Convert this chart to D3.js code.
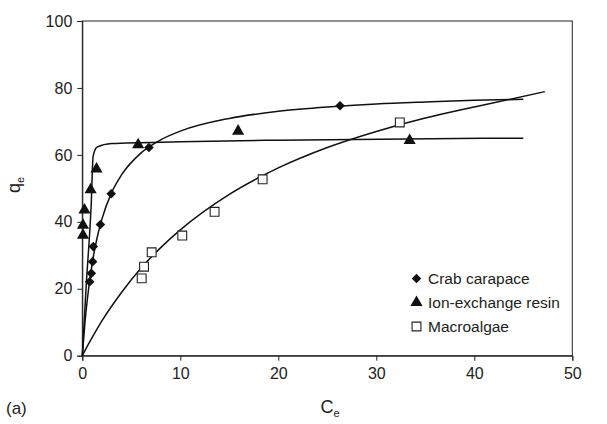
<!DOCTYPE html>
<html>
<head>
<meta charset="utf-8">
<script src="https://cdn.jsdelivr.net/npm/d3@7"></script>
<style>
  html, body { margin: 0; padding: 0; background: #fff; }
  svg { display: block; font-family: "Liberation Sans", Arial, sans-serif; }
</style>
</head>
<body>
<svg id="chart" width="607" height="424"></svg>
<script>
// Measured equilibrium data: [Ce, qe]
const crabCarapace = [[0.75, 22.1], [0.92, 24.6], [1.05, 28.1], [1.12, 32.6], [1.85, 39.2], [2.95, 48.4], [6.8, 62.2], [26.3, 74.7]];
const ionExchangeResin = [[0.07, 36.0], [0.07, 39.0], [0.22, 43.5], [0.85, 49.6], [1.45, 55.8], [5.7, 63.0], [15.9, 67.1], [33.4, 64.3]];
const macroalgae = [[6.06, 23.1], [6.3, 26.6], [7.08, 30.9], [10.2, 35.9], [13.5, 43.0], [18.4, 52.7], [32.4, 69.7]];

// Isotherm model curves, traced as vertices [Ce, qe]
const crabFit = [[0, 0], [0.25, 9.2], [0.5, 16.5], [1, 27.4], [1.5, 35.1], [2, 40.8], [3, 48.8], [4, 54.0], [6, 60.6], [8, 64.5], [10, 67.1], [15, 70.9], [20, 73.0], [25, 74.3], [30, 75.2], [35, 75.8], [40, 76.3], [45, 76.6]];
const resinFit = [[0, 0], [0.4, 21], [0.92, 46], [1.1, 59.5], [1.5, 62.3], [3, 63.4], [10, 63.9], [20, 64.4], [45, 65.0]];
const algaeFit = [[0, 0], [0.5, 2.8], [1, 5.4], [2, 10.4], [4, 18.9], [6, 26.2], [8, 32.3], [10, 37.6], [15, 48.2], [20, 56.1], [25, 62.2], [30, 67.0], [35, 71.0], [40, 74.3], [47.2, 78.9]];

const xTicks = [0, 10, 20, 30, 40, 50];
const yTicks = [0, 20, 40, 60, 80, 100];
const legendItems = ["Crab carapace", "Ion-exchange resin", "Macroalgae"];

const svg = d3.select("#chart");
const plotLeft = 82.3, plotRight = 572.3, plotTop = 21, plotBottom = 355.7;

const x = d3.scaleLinear().domain([0, 50]).range([plotLeft, plotRight]);
const y = d3.scaleLinear().domain([0, 100]).range([plotBottom, plotTop]);

// Frame
svg.append("rect")
  .attr("x", plotLeft).attr("y", plotTop)
  .attr("width", plotRight - plotLeft).attr("height", plotBottom - plotTop)
  .attr("fill", "none").attr("stroke", "#222").attr("stroke-width", 1);

// Axes
const xAxis = svg.append("g")
  .attr("transform", `translate(0,${plotBottom})`)
  .call(d3.axisBottom(x).tickValues(xTicks).tickSize(5).tickPadding(3).tickFormat(d3.format("d")));
const yAxis = svg.append("g")
  .attr("transform", `translate(${plotLeft},0)`)
  .call(d3.axisLeft(y).tickValues(yTicks).tickSize(5).tickPadding(5).tickFormat(d3.format("d")));
[xAxis, yAxis].forEach(g => {
  g.select(".domain").attr("stroke", "#222");
  g.selectAll(".tick line").attr("stroke", "#222");
  g.selectAll(".tick text").attr("fill", "#222").style("font-size", "16px")
    .style("font-family", "'Liberation Sans', Arial, sans-serif");
});
xAxis.selectAll(".tick text").attr("dy", "0.95em");

// Axis titles
const xt = svg.append("text").attr("x", 330).attr("y", 413).attr("text-anchor", "middle")
  .attr("fill", "#222").style("font-size", "18px");
xt.append("tspan").text("C");
xt.append("tspan").attr("dy", 4).style("font-size", "11px").text("e");

const yt = svg.append("text").attr("transform", "translate(20,185) rotate(-90)")
  .attr("text-anchor", "middle").attr("fill", "#222").style("font-size", "18px");
yt.append("tspan").text("q");
yt.append("tspan").attr("dy", 4).style("font-size", "11px").text("e");

svg.append("text").attr("x", 6).attr("y", 414).attr("fill", "#222")
  .style("font-size", "17px").text("(a)");

// Model curves
const line = d3.line().x(d => x(d[0])).y(d => y(d[1])).curve(d3.curveMonotoneX);
[crabFit, resinFit, algaeFit].forEach(s => {
  svg.append("path").datum(s).attr("d", line)
    .attr("fill", "none").attr("stroke", "#111").attr("stroke-width", 1.5);
});

// Marker shapes
const diamondPath = d3.symbol().type(d3.symbolSquare).size(46)();
const trianglePath = d3.symbol().type(d3.symbolTriangle).size(64)();
const squarePath = d3.symbol().type(d3.symbolSquare).size(78)();

function drawDiamond(g, cx, cy) {
  g.append("path").attr("d", diamondPath)
    .attr("transform", `translate(${cx},${cy}) rotate(45)`).attr("fill", "#111");
}
function drawTriangle(g, cx, cy) {
  g.append("path").attr("d", trianglePath)
    .attr("transform", `translate(${cx},${cy})`).attr("fill", "#111");
}
function drawSquare(g, cx, cy) {
  g.append("path").attr("d", squarePath)
    .attr("transform", `translate(${cx},${cy})`)
    .attr("fill", "#fff").attr("stroke", "#222").attr("stroke-width", 1.1);
}

const pts = svg.append("g");
macroalgae.forEach(d => drawSquare(pts, x(d[0]), y(d[1])));
crabCarapace.forEach(d => drawDiamond(pts, x(d[0]), y(d[1])));
ionExchangeResin.forEach(d => drawTriangle(pts, x(d[0]), y(d[1])));

// Legend
const lg = svg.append("g");
const drawers = [drawDiamond, drawTriangle, drawSquare];
legendItems.forEach((name, i) => {
  const cy = 278.5 + i * 24;
  drawers[i](lg, 416.5, cy);
  lg.append("text").attr("x", 428).attr("y", cy).attr("dy", "0.36em")
    .attr("fill", "#222").style("font-size", "15.5px").text(name);
});
</script>
</body>
</html>
